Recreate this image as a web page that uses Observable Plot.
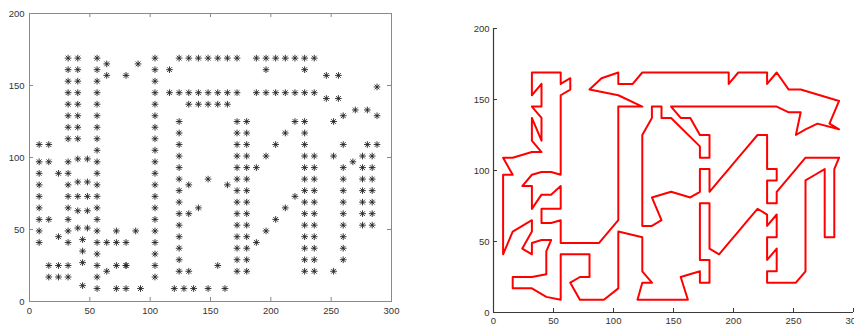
<!DOCTYPE html>
<html><head><meta charset="utf-8">
<script src="https://cdn.jsdelivr.net/npm/d3@7"></script>
<script src="https://cdn.jsdelivr.net/npm/@observablehq/plot@0.6"></script>
<style>
html,body{margin:0;padding:0;background:#fff;}
#wrap{position:relative;width:854px;height:327px;overflow:hidden;background:#fff;}
#left,#right{position:absolute;top:0;}
#left{left:0;}
#right{left:420px;}
</style></head><body>
<div id="wrap"><div id="left"></div><div id="right"></div></div>
<script>
// Cities in tour order (x coordinates)
const tourX = [
120,128,136,148,162,156,172,172,180,180,
180,172,172,172,172,172,172,180,180,180,
180,180,188,196,204,212,220,228,228,236,
236,236,228,228,228,236,236,236,228,228,
236,252,260,260,260,260,260,260,260,260,
260,268,276,276,276,276,276,276,276,284,
284,284,284,284,284,284,288,280,260,252,
236,236,228,228,228,236,236,228,228,228,
228,220,212,204,196,188,180,180,180,172,
172,172,164,148,132,140,132,124,124,124,
124,124,124,124,124,124,132,132,140,140,
148,172,172,180,180,180,172,164,156,148,
156,164,172,188,196,204,212,220,228,236,
246,256,252,260,270,288,280,288,256,246,
236,228,228,220,212,204,196,196,188,172,
164,156,148,140,132,124,116,104,104,90,
80,104,124,116,104,104,104,104,104,104,
104,104,104,104,104,88,72,56,56,56,
48,40,40,48,56,56,56,48,40,32,
32,32,24,32,40,48,56,56,56,56,
56,56,56,56,64,64,56,56,40,32,
32,32,40,40,40,32,40,40,40,32,
32,32,40,32,16,8,16,8,8,8,
8,8,8,8,8,16,32,32,24,32,
32,40,48,44,44,44,32,24,16,16,
24,32,44,56,56,56,56,56,64,72,
80,80,80,72,64,72,80,92,104,104,
104,104,104,104,124,124,124,124,132,124
];
// Cities in tour order (y coordinates)
const tourY = [
9,9,9,9,9,25,29,21,21,29,
37,37,45,53,61,69,77,77,69,61,
53,45,41,49,57,65,73,69,61,69,
61,53,53,45,37,45,37,29,29,21,
21,21,29,37,45,53,61,69,77,85,
93,97,101,93,85,77,69,61,53,53,
61,69,77,85,93,101,109,109,109,101,
85,77,77,85,93,93,101,101,109,117,
125,125,117,109,101,93,85,93,101,101,
93,85,81,85,81,65,61,61,69,77,
85,93,101,109,117,125,137,145,145,137,
137,117,109,109,117,125,125,137,137,145,
145,145,145,145,145,145,145,145,145,145,
141,141,125,129,133,129,133,149,157,157,
169,161,169,169,169,169,161,169,169,169,
169,169,169,169,169,169,161,161,169,165,
157,153,145,145,145,137,129,121,113,105,
97,89,81,73,65,49,49,49,57,65,
63,63,73,73,73,81,89,83,83,73,
81,89,89,97,99,99,97,105,113,121,
129,137,145,153,157,165,161,169,169,169,
161,153,161,153,145,145,137,129,121,137,
129,121,113,113,109,109,97,97,89,81,
73,65,57,49,41,57,65,57,45,41,
49,51,51,43,35,27,25,25,25,17,
17,17,11,9,17,25,33,41,41,41,
41,25,25,25,21,9,9,9,17,25,
33,41,49,57,53,45,37,29,21,21
];
const xTicks = [0, 50, 100, 150, 200, 250, 300];
const yTicks = [0, 50, 100, 150, 200];

const cities = tourX.map((x, i) => ({x, y: tourY[i]}));
const loop = cities.concat([cities[0]]);

const font = "'Liberation Sans', Arial, Helvetica, sans-serif";
const boxColor = "#8a8a8a";
const axColor = "#3a3a3a";
const textColor = "#333";

const leftPlot = Plot.plot({
  width: 420, height: 327,
  marginLeft: 29, marginRight: 29, marginTop: 13, marginBottom: 26,
  style: {fontFamily: font, fontSize: "9.5px", color: textColor, background: "transparent", overflow: "visible"},
  x: {domain: [0, 300], label: null},
  y: {domain: [0, 200], label: null},
  marks: [
    Plot.frame({stroke: boxColor, strokeWidth: 1}),
    Plot.ruleX(xTicks, {x: d => d, y1: 0, y2: 2.8, stroke: boxColor}),
    Plot.ruleX(xTicks, {x: d => d, y1: 200, y2: 197.2, stroke: boxColor}),
    Plot.ruleY(yTicks, {y: d => d, x1: 0, x2: 3.3, stroke: boxColor}),
    Plot.ruleY(yTicks, {y: d => d, x1: 300, x2: 296.7, stroke: boxColor}),
    Plot.axisX({ticks: xTicks, tickSize: 0, tickPadding: 6, label: null, tickFormat: d => String(d)}),
    Plot.axisY({ticks: yTicks, tickSize: 0, tickPadding: 5, label: null, tickFormat: d => String(d)}),
    Plot.dot(cities, {x: "x", y: "y", symbol: "plus", r: 2.3, stroke: "#222", strokeWidth: 0.9}),
    Plot.dot(cities, {x: "x", y: "y", symbol: "times", r: 2.3, stroke: "#222", strokeWidth: 0.9})
  ]
});
document.getElementById("left").appendChild(leftPlot);

const rightPlot = Plot.plot({
  width: 434, height: 327,
  marginLeft: 73, marginRight: 1, marginTop: 28, marginBottom: 15,
  style: {fontFamily: font, fontSize: "9.5px", color: textColor, background: "transparent", overflow: "visible"},
  x: {domain: [0, 300], label: null},
  y: {domain: [0, 200], label: null},
  marks: [
    Plot.line(loop, {x: "x", y: "y", stroke: "#ff0000", strokeWidth: 2}),
    Plot.ruleY([0], {stroke: axColor, strokeWidth: 1.2}),
    Plot.ruleX([0], {stroke: axColor, strokeWidth: 1.2}),
    Plot.ruleX(xTicks, {x: d => d, y1: 0, y2: 2.8, stroke: axColor}),
    Plot.ruleY(yTicks, {y: d => d, x1: 0, x2: 3.3, stroke: axColor}),
    Plot.axisX({ticks: xTicks, tickSize: 0, tickPadding: 5, label: null, tickFormat: d => String(d)}),
    Plot.axisY({ticks: yTicks, tickSize: 0, tickPadding: 4, label: null, tickFormat: d => String(d)})
  ]
});
document.getElementById("right").appendChild(rightPlot);
</script>
</body></html>
